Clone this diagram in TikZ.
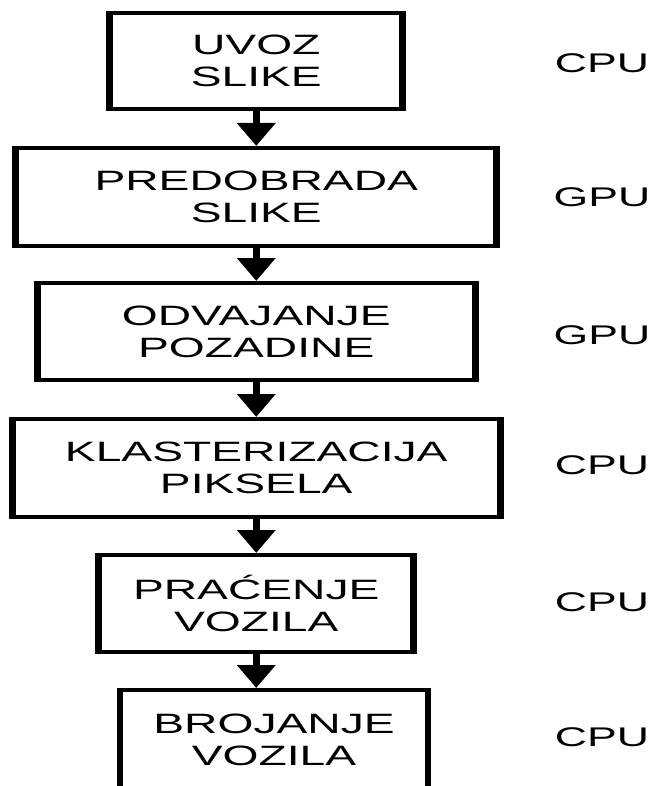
\documentclass[tikz,border=0pt]{standalone}
\usepackage{fontspec}
\setmainfont{Liberation Sans}
\usetikzlibrary{arrows.meta}
\begin{document}
\begin{tikzpicture}[x=1pt,y=-1pt,
  stage/.style={draw, line width=4pt, align=center, inner sep=0pt,
    font=\fontsize{28}{32}\selectfont},
  unit/.style={font=\fontsize{27}{32}\selectfont, inner sep=0pt},
  flow/.style={line width=4pt, -{Triangle[width=22.5pt,length=23pt]}}]
\useasboundingbox[fill=white] (0,0) rectangle (657,786);
\begin{scope}
\pgflowlevel{\pgftransformxscale{1.65}}
\node[stage, minimum width=177.6pt, minimum height=96pt] (b1) at (155.3,61) {UVOZ\\SLIKE};
\node[stage, minimum width=291.5pt, minimum height=98pt] (b2) at (155.3,197) {PREDOBRADA\\SLIKE};
\node[stage, minimum width=265.5pt, minimum height=97pt] (b3) at (155.3,331.5) {ODVAJANJE\\POZADINE};
\node[stage, minimum width=295.8pt, minimum height=98pt] (b4) at (155.3,468) {KLASTERIZACIJA\\PIKSELA};
\node[stage, minimum width=190.9pt, minimum height=97pt] (b5) at (155.3,603.5) {PRAĆENJE\\VOZILA};
\node[stage, minimum width=186.7pt, minimum height=100pt] (b6) at (166.1,740) {BROJANJE\\VOZILA};
\node[unit] (u1) at (364.8,63) {CPU};
\node[unit] (u2) at (364.8,197) {GPU};
\node[unit] (u3) at (364.8,335) {GPU};
\node[unit] (u4) at (364.8,465) {CPU};
\node[unit] (u5) at (364.8,602) {CPU};
\node[unit] (u6) at (364.8,737) {CPU};
\draw[flow] (b1.south) -- (b2.north);
\draw[flow] (b2.south) -- (b3.north);
\draw[flow] (b3.south) -- (b4.north);
\draw[flow] (b4.south) -- (b5.north);
\draw[flow] (b5.south) -- (b5.south |- b6.north);
\end{scope}
\end{tikzpicture}
\end{document}
